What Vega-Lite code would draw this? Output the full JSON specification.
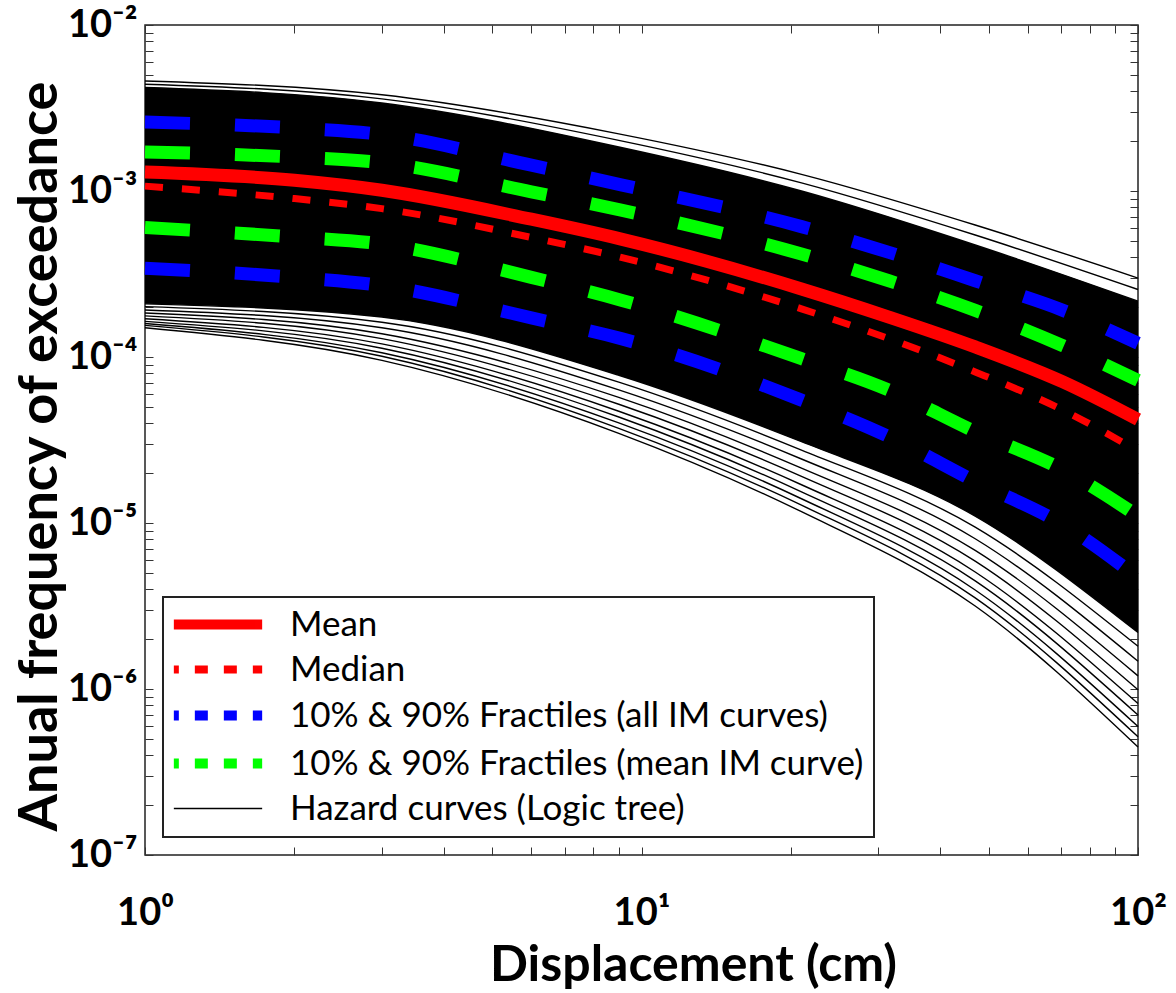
{
  "$schema": "https://vega.github.io/schema/vega-lite/v6.json",
  "width": 993,
  "height": 830,
  "autosize": {"type": "none"},
  "padding": {"left": 145, "top": 25, "right": 38, "bottom": 138},
  "background": "white",
  "config": {"view": {"stroke": "#222", "strokeWidth": 1.5}, "font": "Lato"},
  "datasets": {
    "band": [
      {"x": 1, "top": 4.20e-3, "bot": 2.09e-4},
      {"x": 3, "top": 3.39e-3, "bot": 1.74e-4},
      {"x": 9, "top": 1.84e-3, "bot": 7.76e-5},
      {"x": 21, "top": 1.00e-3, "bot": 3.09e-5},
      {"x": 47, "top": 4.73e-4, "bot": 1.10e-5},
      {"x": 100, "top": 2.17e-4, "bot": 2.19e-6}
    ],
    "haz": [
      {"c": "h1", "s": "Hazard curves (Logic tree)", "x": 1, "y": 4.60e-3},
      {"c": "h1", "s": "Hazard curves (Logic tree)", "x": 3, "y": 3.80e-3},
      {"c": "h1", "s": "Hazard curves (Logic tree)", "x": 9, "y": 2.21e-3},
      {"c": "h1", "s": "Hazard curves (Logic tree)", "x": 21, "y": 1.26e-3},
      {"c": "h1", "s": "Hazard curves (Logic tree)", "x": 47, "y": 6.24e-4},
      {"c": "h1", "s": "Hazard curves (Logic tree)", "x": 100, "y": 2.99e-4},
      {"c": "h2", "s": "Hazard curves (Logic tree)", "x": 1, "y": 4.40e-3},
      {"c": "h2", "s": "Hazard curves (Logic tree)", "x": 3, "y": 3.59e-3},
      {"c": "h2", "s": "Hazard curves (Logic tree)", "x": 9, "y": 2.02e-3},
      {"c": "h2", "s": "Hazard curves (Logic tree)", "x": 21, "y": 1.12e-3},
      {"c": "h2", "s": "Hazard curves (Logic tree)", "x": 47, "y": 5.43e-4},
      {"c": "h2", "s": "Hazard curves (Logic tree)", "x": 100, "y": 2.55e-4},
      {"c": "h3", "s": "Hazard curves (Logic tree)", "x": 1, "y": 4.20e-3},
      {"c": "h3", "s": "Hazard curves (Logic tree)", "x": 3, "y": 3.39e-3},
      {"c": "h3", "s": "Hazard curves (Logic tree)", "x": 9, "y": 1.84e-3},
      {"c": "h3", "s": "Hazard curves (Logic tree)", "x": 21, "y": 1.00e-3},
      {"c": "h3", "s": "Hazard curves (Logic tree)", "x": 47, "y": 4.73e-4},
      {"c": "h3", "s": "Hazard curves (Logic tree)", "x": 100, "y": 2.17e-4},
      {"c": "h4", "s": "Hazard curves (Logic tree)", "x": 1, "y": 2.09e-4},
      {"c": "h4", "s": "Hazard curves (Logic tree)", "x": 3, "y": 1.74e-4},
      {"c": "h4", "s": "Hazard curves (Logic tree)", "x": 9, "y": 7.76e-5},
      {"c": "h4", "s": "Hazard curves (Logic tree)", "x": 21, "y": 3.09e-5},
      {"c": "h4", "s": "Hazard curves (Logic tree)", "x": 47, "y": 1.10e-5},
      {"c": "h4", "s": "Hazard curves (Logic tree)", "x": 100, "y": 2.19e-6},
      {"c": "h5", "s": "Hazard curves (Logic tree)", "x": 1, "y": 2.01e-4},
      {"c": "h5", "s": "Hazard curves (Logic tree)", "x": 3, "y": 1.62e-4},
      {"c": "h5", "s": "Hazard curves (Logic tree)", "x": 9, "y": 7.05e-5},
      {"c": "h5", "s": "Hazard curves (Logic tree)", "x": 21, "y": 2.75e-5},
      {"c": "h5", "s": "Hazard curves (Logic tree)", "x": 47, "y": 9.44e-6},
      {"c": "h5", "s": "Hazard curves (Logic tree)", "x": 100, "y": 1.81e-6},
      {"c": "h6", "s": "Hazard curves (Logic tree)", "x": 1, "y": 1.92e-4},
      {"c": "h6", "s": "Hazard curves (Logic tree)", "x": 3, "y": 1.50e-4},
      {"c": "h6", "s": "Hazard curves (Logic tree)", "x": 9, "y": 6.34e-5},
      {"c": "h6", "s": "Hazard curves (Logic tree)", "x": 21, "y": 2.43e-5},
      {"c": "h6", "s": "Hazard curves (Logic tree)", "x": 47, "y": 8.04e-6},
      {"c": "h6", "s": "Hazard curves (Logic tree)", "x": 100, "y": 1.47e-6},
      {"c": "h7", "s": "Hazard curves (Logic tree)", "x": 1, "y": 1.84e-4},
      {"c": "h7", "s": "Hazard curves (Logic tree)", "x": 3, "y": 1.38e-4},
      {"c": "h7", "s": "Hazard curves (Logic tree)", "x": 9, "y": 5.71e-5},
      {"c": "h7", "s": "Hazard curves (Logic tree)", "x": 21, "y": 2.14e-5},
      {"c": "h7", "s": "Hazard curves (Logic tree)", "x": 47, "y": 6.84e-6},
      {"c": "h7", "s": "Hazard curves (Logic tree)", "x": 100, "y": 1.20e-6},
      {"c": "h8", "s": "Hazard curves (Logic tree)", "x": 1, "y": 1.77e-4},
      {"c": "h8", "s": "Hazard curves (Logic tree)", "x": 3, "y": 1.29e-4},
      {"c": "h8", "s": "Hazard curves (Logic tree)", "x": 9, "y": 5.19e-5},
      {"c": "h8", "s": "Hazard curves (Logic tree)", "x": 21, "y": 1.91e-5},
      {"c": "h8", "s": "Hazard curves (Logic tree)", "x": 47, "y": 5.89e-6},
      {"c": "h8", "s": "Hazard curves (Logic tree)", "x": 100, "y": 9.89e-7},
      {"c": "h9", "s": "Hazard curves (Logic tree)", "x": 1, "y": 1.70e-4},
      {"c": "h9", "s": "Hazard curves (Logic tree)", "x": 3, "y": 1.20e-4},
      {"c": "h9", "s": "Hazard curves (Logic tree)", "x": 9, "y": 4.71e-5},
      {"c": "h9", "s": "Hazard curves (Logic tree)", "x": 21, "y": 1.70e-5},
      {"c": "h9", "s": "Hazard curves (Logic tree)", "x": 47, "y": 5.07e-6},
      {"c": "h9", "s": "Hazard curves (Logic tree)", "x": 100, "y": 8.17e-7},
      {"c": "h10", "s": "Hazard curves (Logic tree)", "x": 1, "y": 1.64e-4},
      {"c": "h10", "s": "Hazard curves (Logic tree)", "x": 3, "y": 1.13e-4},
      {"c": "h10", "s": "Hazard curves (Logic tree)", "x": 9, "y": 4.35e-5},
      {"c": "h10", "s": "Hazard curves (Logic tree)", "x": 21, "y": 1.54e-5},
      {"c": "h10", "s": "Hazard curves (Logic tree)", "x": 47, "y": 4.48e-6},
      {"c": "h10", "s": "Hazard curves (Logic tree)", "x": 100, "y": 6.97e-7},
      {"c": "h11", "s": "Hazard curves (Logic tree)", "x": 1, "y": 1.59e-4},
      {"c": "h11", "s": "Hazard curves (Logic tree)", "x": 3, "y": 1.06e-4},
      {"c": "h11", "s": "Hazard curves (Logic tree)", "x": 9, "y": 4.01e-5},
      {"c": "h11", "s": "Hazard curves (Logic tree)", "x": 21, "y": 1.40e-5},
      {"c": "h11", "s": "Hazard curves (Logic tree)", "x": 47, "y": 3.95e-6},
      {"c": "h11", "s": "Hazard curves (Logic tree)", "x": 100, "y": 5.94e-7},
      {"c": "h12", "s": "Hazard curves (Logic tree)", "x": 1, "y": 1.55e-4},
      {"c": "h12", "s": "Hazard curves (Logic tree)", "x": 3, "y": 1.01e-4},
      {"c": "h12", "s": "Hazard curves (Logic tree)", "x": 9, "y": 3.72e-5},
      {"c": "h12", "s": "Hazard curves (Logic tree)", "x": 21, "y": 1.28e-5},
      {"c": "h12", "s": "Hazard curves (Logic tree)", "x": 47, "y": 3.54e-6},
      {"c": "h12", "s": "Hazard curves (Logic tree)", "x": 100, "y": 5.15e-7},
      {"c": "h13", "s": "Hazard curves (Logic tree)", "x": 1, "y": 1.50e-4},
      {"c": "h13", "s": "Hazard curves (Logic tree)", "x": 3, "y": 9.55e-5},
      {"c": "h13", "s": "Hazard curves (Logic tree)", "x": 9, "y": 3.47e-5},
      {"c": "h13", "s": "Hazard curves (Logic tree)", "x": 21, "y": 1.17e-5},
      {"c": "h13", "s": "Hazard curves (Logic tree)", "x": 47, "y": 3.16e-6},
      {"c": "h13", "s": "Hazard curves (Logic tree)", "x": 100, "y": 4.47e-7}
    ],
    "med": [
      {"c": "med", "s": "Median", "x": 1, "y": 1.07e-3},
      {"c": "med", "s": "Median", "x": 2, "y": 9.00e-4},
      {"c": "med", "s": "Median", "x": 3, "y": 7.83e-4},
      {"c": "med", "s": "Median", "x": 6, "y": 5.25e-4},
      {"c": "med", "s": "Median", "x": 9.1, "y": 3.98e-4},
      {"c": "med", "s": "Median", "x": 21, "y": 1.95e-4},
      {"c": "med", "s": "Median", "x": 31.5, "y": 1.29e-4},
      {"c": "med", "s": "Median", "x": 47, "y": 8.13e-5},
      {"c": "med", "s": "Median", "x": 70.6, "y": 4.79e-5},
      {"c": "med", "s": "Median", "x": 100, "y": 2.71e-5}
    ],
    "mean": [
      {"c": "mean", "s": "Mean", "x": 1, "y": 1.30e-3},
      {"c": "mean", "s": "Mean", "x": 2, "y": 1.16e-3},
      {"c": "mean", "s": "Mean", "x": 3, "y": 1.01e-3},
      {"c": "mean", "s": "Mean", "x": 6, "y": 6.76e-4},
      {"c": "mean", "s": "Mean", "x": 9.1, "y": 5.13e-4},
      {"c": "mean", "s": "Mean", "x": 21, "y": 2.57e-4},
      {"c": "mean", "s": "Mean", "x": 31.5, "y": 1.74e-4},
      {"c": "mean", "s": "Mean", "x": 47, "y": 1.15e-4},
      {"c": "mean", "s": "Mean", "x": 70.6, "y": 7.08e-5},
      {"c": "mean", "s": "Mean", "x": 100, "y": 4.20e-5}
    ],
    "frac": [
      {"c": "b90", "s": "10% & 90% Fractiles (all IM curves)", "x": 1, "y": 2.60e-3},
      {"c": "b90", "s": "10% & 90% Fractiles (all IM curves)", "x": 2, "y": 2.40e-3},
      {"c": "b90", "s": "10% & 90% Fractiles (all IM curves)", "x": 3, "y": 2.19e-3},
      {"c": "b90", "s": "10% & 90% Fractiles (all IM curves)", "x": 6, "y": 1.43e-3},
      {"c": "b90", "s": "10% & 90% Fractiles (all IM curves)", "x": 9.1, "y": 1.09e-3},
      {"c": "b90", "s": "10% & 90% Fractiles (all IM curves)", "x": 21, "y": 6.10e-4},
      {"c": "b90", "s": "10% & 90% Fractiles (all IM curves)", "x": 31.5, "y": 4.27e-4},
      {"c": "b90", "s": "10% & 90% Fractiles (all IM curves)", "x": 47, "y": 2.88e-4},
      {"c": "b90", "s": "10% & 90% Fractiles (all IM curves)", "x": 70.6, "y": 1.91e-4},
      {"c": "b90", "s": "10% & 90% Fractiles (all IM curves)", "x": 100, "y": 1.21e-4},
      {"c": "b10", "s": "10% & 90% Fractiles (all IM curves)", "x": 1, "y": 3.43e-4},
      {"c": "b10", "s": "10% & 90% Fractiles (all IM curves)", "x": 2, "y": 3.02e-4},
      {"c": "b10", "s": "10% & 90% Fractiles (all IM curves)", "x": 3, "y": 2.69e-4},
      {"c": "b10", "s": "10% & 90% Fractiles (all IM curves)", "x": 6, "y": 1.72e-4},
      {"c": "b10", "s": "10% & 90% Fractiles (all IM curves)", "x": 9.1, "y": 1.29e-4},
      {"c": "b10", "s": "10% & 90% Fractiles (all IM curves)", "x": 21, "y": 5.50e-5},
      {"c": "b10", "s": "10% & 90% Fractiles (all IM curves)", "x": 31.5, "y": 3.31e-5},
      {"c": "b10", "s": "10% & 90% Fractiles (all IM curves)", "x": 47, "y": 1.78e-5},
      {"c": "b10", "s": "10% & 90% Fractiles (all IM curves)", "x": 70.6, "y": 9.77e-6},
      {"c": "b10", "s": "10% & 90% Fractiles (all IM curves)", "x": 100, "y": 4.68e-6},
      {"c": "g90", "s": "10% & 90% Fractiles (mean IM curve)", "x": 1, "y": 1.72e-3},
      {"c": "g90", "s": "10% & 90% Fractiles (mean IM curve)", "x": 2, "y": 1.60e-3},
      {"c": "g90", "s": "10% & 90% Fractiles (mean IM curve)", "x": 3, "y": 1.48e-3},
      {"c": "g90", "s": "10% & 90% Fractiles (mean IM curve)", "x": 6, "y": 9.89e-4},
      {"c": "g90", "s": "10% & 90% Fractiles (mean IM curve)", "x": 9.1, "y": 7.67e-4},
      {"c": "g90", "s": "10% & 90% Fractiles (mean IM curve)", "x": 21, "y": 4.17e-4},
      {"c": "g90", "s": "10% & 90% Fractiles (mean IM curve)", "x": 31.5, "y": 2.88e-4},
      {"c": "g90", "s": "10% & 90% Fractiles (mean IM curve)", "x": 47, "y": 1.91e-4},
      {"c": "g90", "s": "10% & 90% Fractiles (mean IM curve)", "x": 70.6, "y": 1.17e-4},
      {"c": "g90", "s": "10% & 90% Fractiles (mean IM curve)", "x": 100, "y": 7.24e-5},
      {"c": "g10", "s": "10% & 90% Fractiles (mean IM curve)", "x": 1, "y": 6.03e-4},
      {"c": "g10", "s": "10% & 90% Fractiles (mean IM curve)", "x": 2, "y": 5.28e-4},
      {"c": "g10", "s": "10% & 90% Fractiles (mean IM curve)", "x": 3, "y": 4.79e-4},
      {"c": "g10", "s": "10% & 90% Fractiles (mean IM curve)", "x": 6, "y": 3.02e-4},
      {"c": "g10", "s": "10% & 90% Fractiles (mean IM curve)", "x": 9.1, "y": 2.20e-4},
      {"c": "g10", "s": "10% & 90% Fractiles (mean IM curve)", "x": 21, "y": 9.77e-5},
      {"c": "g10", "s": "10% & 90% Fractiles (mean IM curve)", "x": 31.5, "y": 6.31e-5},
      {"c": "g10", "s": "10% & 90% Fractiles (mean IM curve)", "x": 47, "y": 3.55e-5},
      {"c": "g10", "s": "10% & 90% Fractiles (mean IM curve)", "x": 70.6, "y": 2.09e-5},
      {"c": "g10", "s": "10% & 90% Fractiles (mean IM curve)", "x": 100, "y": 1.10e-5}
    ]
  },
  "layer": [
    {
      "data": {"name": "band"},
      "mark": {"type": "area", "color": "black", "interpolate": "monotone"},
      "encoding": {
        "x": {"field": "x", "type": "quantitative",
          "scale": {"type": "log", "domain": [1, 100], "nice": false},
          "axis": {"orient": "top", "values": [1,2,3,4,5,6,7,8,9,10,20,30,40,50,60,70,80,90,100], "labels": false, "domain": false, "grid": false, "tickSize": -8, "tickColor": "#333", "title": null}},
        "y": {"field": "top", "type": "quantitative",
          "scale": {"type": "log", "domain": [1e-7, 1e-2], "nice": false},
          "axis": {"orient": "right", "values": [1e-7,2e-7,3e-7,4e-7,5e-7,6e-7,7e-7,8e-7,9e-7,1e-6,2e-6,3e-6,4e-6,5e-6,6e-6,7e-6,8e-6,9e-6,1e-5,2e-5,3e-5,4e-5,5e-5,6e-5,7e-5,8e-5,9e-5,1e-4,2e-4,3e-4,4e-4,5e-4,6e-4,7e-4,8e-4,9e-4,1e-3,2e-3,3e-3,4e-3,5e-3,6e-3,7e-3,8e-3,9e-3,1e-2], "labels": false, "domain": false, "grid": false, "tickSize": -8, "tickColor": "#333", "title": null}},
        "y2": {"field": "bot"}
      }
    },
    {
      "data": {"name": "haz"},
      "mark": {"type": "line", "interpolate": "monotone", "strokeWidth": 1.4},
      "encoding": {
        "x": {"field": "x", "type": "quantitative",
          "axis": {"orient": "bottom", "values": [1,2,3,4,5,6,7,8,9,10,20,30,40,50,60,70,80,90,100],
            "labelExpr": "datum.value == 1 ? '10⁰' : datum.value == 10 ? '10¹' : datum.value == 100 ? '10²' : ''",
            "labelOverlap": false, "labelFlush": false, "domain": false, "grid": false, "tickSize": -8, "tickColor": "#333",
            "labelFont": "Lato", "labelFontWeight": "bold", "labelFontSize": 38, "labelColor": "black", "labelPadding": 47,
            "title": "Displacement (cm)", "titleFont": "Lato", "titleFontWeight": "bold", "titleFontSize": 50, "titleColor": "black",
            "titleX": 548, "titleY": 125, "titleBaseline": "alphabetic", "titleAlign": "center"}},
        "y": {"field": "y", "type": "quantitative",
          "axis": {"orient": "left", "values": [1e-7,2e-7,3e-7,4e-7,5e-7,6e-7,7e-7,8e-7,9e-7,1e-6,2e-6,3e-6,4e-6,5e-6,6e-6,7e-6,8e-6,9e-6,1e-5,2e-5,3e-5,4e-5,5e-5,6e-5,7e-5,8e-5,9e-5,1e-4,2e-4,3e-4,4e-4,5e-4,6e-4,7e-4,8e-4,9e-4,1e-3,2e-3,3e-3,4e-3,5e-3,6e-3,7e-3,8e-3,9e-3,1e-2],
            "labelExpr": "datum.value == 1e-2 ? '10⁻²' : datum.value == 1e-3 ? '10⁻³' : datum.value == 1e-4 ? '10⁻⁴' : datum.value == 1e-5 ? '10⁻⁵' : datum.value == 1e-6 ? '10⁻⁶' : datum.value == 1e-7 ? '10⁻⁷' : ''",
            "labelOverlap": false, "labelFlush": false, "domain": false, "grid": false, "tickSize": -8, "tickColor": "#333",
            "labelFont": "Lato", "labelFontWeight": "bold", "labelFontSize": 38, "labelColor": "black", "labelPadding": 16,
            "title": "Anual frequency of exceedance", "titleFont": "Lato", "titleFontWeight": "bold", "titleFontSize": 54, "titleColor": "black",
            "titleX": -89, "titleY": 431, "titleBaseline": "alphabetic", "titleAlign": "center", "titleAngle": 270,
            "encode": {"labels": {"update": {"dy": {"signal": "datum.value == 0.01 ? 9 : -2"}}}}}},
        "detail": {"field": "c"},
        "color": {"field": "s", "type": "nominal",
          "scale": {"domain": ["Mean", "Median", "10% & 90% Fractiles (all IM curves)", "10% & 90% Fractiles (mean IM curve)", "Hazard curves (Logic tree)"],
                    "range": ["#ff0000", "#ff0000", "#0000ff", "#00ff00", "#000000"]},
          "legend": {"orient": "none", "legendX": 18, "legendY": 572, "title": null, "strokeColor": "#222", "fillColor": "white",
                     "padding": 10, "labelFont": "Lato", "labelFontSize": 35, "labelColor": "black", "labelLimit": 900, "labelOffset": 82,
                     "symbolType": "stroke", "symbolSize": 7800, "rowPadding": 7,
                     "encode": {
                       "legend": {"update": {"strokeWidth": {"value": 2}}},
                       "symbols": {"update": {
                        "x": {"value": 45},
                        "strokeWidth": {"signal": "datum.value == 'Hazard curves (Logic tree)' ? 1.5 : datum.value == 'Median' ? 8 : 10"},
                        "strokeDash": {"signal": "datum.value == 'Mean' || datum.value == 'Hazard curves (Logic tree)' ? [1, 0] : [13, 16]"},
                        "strokeDashOffset": {"value": 8}}}}}}
      }
    },
    {
      "data": {"name": "frac"},
      "mark": {"type": "line", "interpolate": "monotone", "strokeCap": "butt", "strokeWidth": 13, "strokeDash": [45, 45]},
      "encoding": {
        "x": {"field": "x", "type": "quantitative", "axis": null},
        "y": {"field": "y", "type": "quantitative", "axis": null},
        "detail": {"field": "c"},
        "color": {"field": "s", "type": "nominal"}
      }
    },
    {
      "data": {"name": "mean"},
      "mark": {"type": "line", "interpolate": "monotone", "strokeCap": "butt", "strokeWidth": 13},
      "encoding": {
        "x": {"field": "x", "type": "quantitative", "axis": null},
        "y": {"field": "y", "type": "quantitative", "axis": null},
        "color": {"field": "s", "type": "nominal"}
      }
    },
    {
      "data": {"name": "med"},
      "mark": {"type": "line", "interpolate": "monotone", "strokeCap": "butt", "strokeWidth": 7, "strokeDash": [18, 19]},
      "encoding": {
        "x": {"field": "x", "type": "quantitative", "axis": null},
        "y": {"field": "y", "type": "quantitative", "axis": null},
        "color": {"field": "s", "type": "nominal"}
      }
    }
  ],
  "resolve": {"axis": {"x": "independent", "y": "independent"}}
}
